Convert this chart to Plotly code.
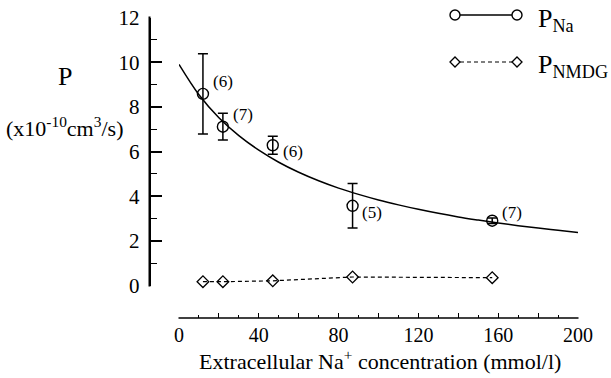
import plotly.graph_objects as go

W, H = 611, 378

# ---- data ----
na_conc = [12, 22, 47, 87, 157]
p_na = [8.58, 7.11, 6.28, 3.57, 2.90]
p_na_err = [1.8, 0.6, 0.4, 1.0, 0.12]
p_nmdg = [0.17, 0.17, 0.21, 0.38, 0.35]
n_labels = ["(6)", "(7)", "(6)", "(5)", "(7)"]
fit_x = [0, 10, 20, 30, 40, 50, 60, 70, 80, 90, 100, 110, 120, 130, 140, 150, 160, 170, 180, 190, 200]
fit_y = [9.90, 8.54, 7.51, 6.71, 6.06, 5.52, 5.07, 4.69, 4.36, 4.08, 3.83, 3.61, 3.41,
         3.23, 3.07, 2.93, 2.80, 2.68, 2.57, 2.47, 2.37]
x_label_ticks = [0, 40, 80, 120, 160, 200]
y_label_ticks = [0, 2, 4, 6, 8, 10, 12]
label_shifts = [(20, 12), (20, 12), (20, -6), (19, -7), (20, 8)]

FONT = "Liberation Serif"

def px(x):
    return x / W

def py(y):
    return 1 - y / H

fig = go.Figure()

# fitted curve (on the overlay x axis that carries the 20-unit ticks)
fig.add_trace(go.Scatter(x=fit_x, y=fit_y, mode="lines", xaxis="x2", yaxis="y",
                         line=dict(color="black", width=1.5, shape="spline"),
                         showlegend=False, hoverinfo="skip", cliponaxis=False))
# NMDG
fig.add_trace(go.Scatter(x=na_conc, y=p_nmdg, mode="lines+markers",
                         line=dict(color="black", width=1.2, dash="4px,3px"),
                         marker=dict(symbol="diamond-open", size=9, color="black", line=dict(width=1.3)),
                         showlegend=False, cliponaxis=False))
# Na
fig.add_trace(go.Scatter(x=na_conc, y=p_na, mode="markers",
                         marker=dict(symbol="circle-open", size=11, color="black", line=dict(width=1.4)),
                         error_y=dict(type="data", array=p_na_err, visible=True, color="black", thickness=1.5, width=5),
                         showlegend=False, cliponaxis=False))

annotations = []
for xv, yv, t, (dx, dy) in zip(na_conc, p_na, n_labels, label_shifts):
    annotations.append(dict(x=xv, y=yv, xref="x", yref="y", text=t, showarrow=False,
                            xanchor="center", yanchor="middle",
                            xshift=dx, yshift=dy, font=dict(family=FONT, size=17, color="black")))

def paper_text(x, y, text, size, xanchor="center"):
    return dict(x=px(x), y=py(y), xref="paper", yref="paper", text=text, showarrow=False,
                xanchor=xanchor, yanchor="middle", font=dict(family=FONT, size=size, color="black"))

# axis titles
annotations.append(paper_text(65, 76, "P", 26))
annotations.append(paper_text(64, 127, "(x10<sup>-10</sup>cm<sup>3</sup>/s)", 22))
annotations.append(paper_text(380, 360, "Extracellular Na<sup>+</sup> concentration (mmol/l)", 22))
# legend text
annotations.append(paper_text(536, 20, "P<sub>Na</sub>", 26, xanchor="left"))
annotations.append(paper_text(536, 66, "P<sub>NMDG</sub>", 26, xanchor="left"))

shapes = []
# axis lines (axes are detached from each other, as in the reference)
shapes.append(dict(type="rect", xref="paper", yref="paper", x0=px(148.5), x1=px(150.5),
                   y0=py(286.5), y1=py(16.5), fillcolor="black", line=dict(width=0), layer="above"))
shapes.append(dict(type="line", xref="paper", yref="paper", x0=px(178.5), x1=px(578.5),
                   y0=py(318), y1=py(318), line=dict(color="black", width=1.5)))
# legend samples
lx0, lx1 = 455, 517
ly_na, ly_nm = 15, 62
shapes.append(dict(type="line", xref="paper", yref="paper", x0=px(lx0 + 5), x1=px(lx1 - 5),
                   y0=py(ly_na), y1=py(ly_na), line=dict(color="black", width=1.5)))
shapes.append(dict(type="line", xref="paper", yref="paper", x0=px(lx0 + 5), x1=px(lx1 - 5),
                   y0=py(ly_nm), y1=py(ly_nm), line=dict(color="black", width=1.2, dash="4px,3px")))
for cx in (lx0, lx1):
    shapes.append(dict(type="circle", xref="paper", yref="paper", xsizemode="pixel", ysizemode="pixel",
                       xanchor=px(cx), yanchor=py(ly_na), x0=-5, x1=5, y0=-5, y1=5,
                       line=dict(color="black", width=1.4)))
    shapes.append(dict(type="path", xref="paper", yref="paper", xsizemode="pixel", ysizemode="pixel",
                       xanchor=px(cx), yanchor=py(ly_nm), path="M -5 0 L 0 5 L 5 0 L 0 -5 Z",
                       line=dict(color="black", width=1.3)))

xdom = [px(179), px(578)]
xpos = py(318)
fig.update_layout(
    template="none",
    width=W, height=H,
    margin=dict(l=0, r=0, t=0, b=0, pad=0),
    paper_bgcolor="white", plot_bgcolor="white",
    showlegend=False,
    annotations=annotations,
    shapes=shapes,
    xaxis=dict(domain=xdom, range=[0, 200], anchor="free", position=xpos, automargin=False,
               showline=False, showgrid=False, zeroline=False,
               ticks="inside", ticklen=5, tickwidth=1.3, tickcolor="black",
               tickvals=x_label_ticks, ticklabelstandoff=3,
               tickfont=dict(family=FONT, size=20, color="black")),
    xaxis2=dict(domain=xdom, range=[0, 200], anchor="free", position=xpos, overlaying="x", automargin=False,
                showline=False, showgrid=False, zeroline=False, showticklabels=False,
                ticks="inside", ticklen=5, tickwidth=1.3, tickcolor="black", dtick=20, tick0=0,
                minor=dict(ticks="inside", ticklen=3, dtick=10, tickwidth=1.2, tickcolor="black", showgrid=False)),
    yaxis=dict(domain=[py(285.5), py(17.5)], range=[0, 12], anchor="free", position=px(149.5), automargin=False,
               showline=True, linecolor="black", linewidth=1.8, showgrid=False, zeroline=False,
               ticks="inside", ticklen=12, tickwidth=1.5, tickcolor="black",
               tickvals=y_label_ticks, ticklabelstandoff=5,
               minor=dict(ticks="inside", ticklen=7, dtick=1, tickwidth=1.3, tickcolor="black", showgrid=False),
               tickfont=dict(family=FONT, size=21, color="black")),
)

fig.write_html("out.html")
